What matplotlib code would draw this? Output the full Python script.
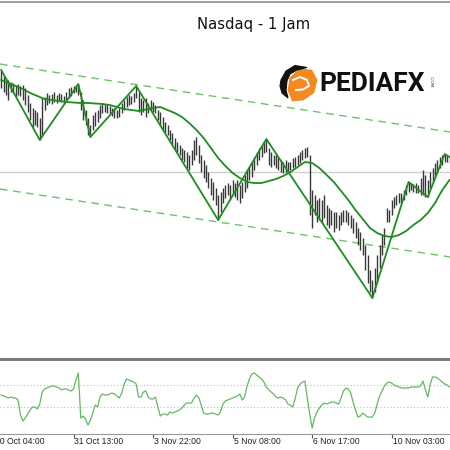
import matplotlib
matplotlib.use("Agg")
import matplotlib.pyplot as plt
from matplotlib.patches import Polygon
from matplotlib.lines import Line2D
import matplotlib.transforms as mtransforms

title = "Nasdaq - 1 Jam"

highs = [330, 325, 322, 320, 318, 317, 315, 316, 314, 315,
         312, 305, 297, 292, 290, 288, 282, 302, 303, 307,
         305, 306, 308, 305, 307, 306, 304, 308, 312, 313,
         314, 315, 316, 308, 300, 290, 282, 275, 285, 288,
         290, 295, 297, 296, 295, 294, 292, 292, 290, 292,
         297, 300, 303, 305, 304, 307, 314, 308, 302, 300,
         302, 297, 300, 298, 295, 290, 288, 283, 278, 275,
         270, 267, 262, 258, 255, 252, 250, 248, 245, 250,
         260, 263, 255, 245, 240, 235, 228, 222, 218, 212,
         205, 208, 212, 215, 217, 215, 220, 217, 220, 215,
         218, 225, 230, 233, 238, 243, 248, 252, 255, 258,
         261, 252, 248, 245, 245, 242, 240, 238, 240, 238,
         238, 242, 243, 245, 248, 250, 252, 253, 245, 210,
         205, 200, 202, 200, 205, 195, 192, 190, 188, 188,
         185, 188, 190, 190, 188, 185, 182, 178, 172, 168,
         162, 155, 145, 130, 120, 132, 145, 155, 165, 172,
         192, 190, 200, 203, 205, 207, 207, 210, 215, 218,
         217, 216, 217, 215, 222, 230, 225, 220, 228, 232,
         237, 240, 243, 245, 246, 245, 244]

lows = [312, 308, 305, 300, 308, 307, 303, 305, 304, 300,
        295, 288, 280, 273, 275, 273, 260, 265, 290, 295,
        297, 296, 298, 297, 299, 298, 296, 300, 302, 304,
        307, 308, 305, 290, 280, 275, 265, 263, 270, 274,
        278, 282, 287, 288, 287, 286, 284, 282, 282, 283,
        287, 290, 293, 295, 296, 298, 302, 288, 285, 288,
        283, 287, 290, 288, 287, 280, 275, 270, 267, 265,
        260, 255, 250, 247, 245, 240, 238, 232, 230, 235,
        240, 245, 237, 228, 222, 218, 212, 205, 200, 195,
        180, 188, 197, 202, 205, 200, 205, 203, 200, 197,
        202, 208, 212, 220, 223, 230, 235, 240, 243, 247,
        248, 235, 233, 235, 232, 230, 228, 227, 228, 228,
        230, 232, 233, 235, 237, 240, 242, 243, 185, 172,
        185, 178, 180, 177, 182, 175, 172, 175, 168, 172,
        170, 175, 178, 178, 175, 172, 167, 162, 155, 150,
        145, 130, 117, 108, 102, 108, 117, 132, 145, 155,
        178, 178, 185, 192, 195, 197, 197, 200, 205, 208,
        210, 208, 207, 207, 205, 205, 203, 203, 212, 218,
        224, 228, 232, 235, 238, 238, 237]

ma_bars = list(range(0, 187, 3))
ma_vals = [320, 317, 314, 311, 307, 304, 301, 300, 299, 298,
           297.5, 297, 297, 296.5, 296, 295, 293, 291, 290, 289,
           290.5, 292, 293, 290, 287, 283, 277, 270, 262, 252,
           242, 234, 227, 222, 218, 217, 217, 219, 221, 224,
           228, 233, 238, 237, 232, 225, 218, 209, 200, 190,
           181, 172, 167, 164, 163, 165, 169, 175, 180, 187,
           197, 210, 220]

zz_bars = [0, 16, 32, 37, 56, 90, 110, 154, 169, 177, 184, 186]
zz_vals = [330, 260, 316, 263, 314, 180, 261, 102, 218, 203, 246, 243]

chan_bars = [0, 186]
chan_upper = [335.8, 268.1]
chan_lower = [210.8, 143.1]
hline_price = 228

osc = [9, 0, -9, -18, -9, -18, -18, -36, -173, -227,
       -200, -164, -127, -100, -100, -118, -73, 36, 64, 73,
       82, 91, 91, 82, 73, 55, 64, 64, 55, 45,
       64, 145, 209, -200, -182, -209, -264, -218, -155, -82,
       -100, -9, 18, 9, 9, 18, 27, 18, 0, -18,
       27, 109, 155, 145, 136, 127, 109, -9, -9, 36,
       45, -9, -27, -27, -9, -100, -182, -164, -164, -173,
       -145, -155, -145, -136, -127, -109, -82, -64, -64, -64,
       -18, 9, -18, -82, -155, -164, -164, -155, -155, -164,
       -173, -145, -73, -45, -36, -27, -18, -9, 0, 18,
       -36, -9, 91, 155, 200, 209, 191, 173, 155, 127,
       82, 55, 36, 18, -9, -18, -9, -18, -36, -73,
       -82, -100, -18, 73, 109, 127, 136, -18, -164, -291,
       -200, -145, -109, -82, -64, -73, -64, -55, -55, -64,
       -73, -18, 45, 73, 64, 27, -55, -127, -191, -182,
       -155, -173, -191, -191, -191, -155, -73, 0, 45, 91,
       118, 127, 118, 100, 91, 82, 73, 73, 73, 73,
       82, 82, 82, 82, 91, 136, 55, -9, 109, 173,
       173, 164, 145, 127, 109, 100, 82]
osc_levels = [100, -100]

tick_bars = [-3, 30, 63, 96, 129, 162]
tick_labels = ["30 Oct 04:00", "31 Oct 13:00", "3 Nov 22:00",
               "5 Nov 08:00", "6 Nov 17:00", "10 Nov 03:00"]

W = H = 450
fig = plt.figure(figsize=(4.5, 4.5), dpi=100, facecolor="white")


def fx(px):
    return px / W


def fy(py):
    return 1 - py / H


XLIM = (-0.5, 186.2)
ax = fig.add_axes([0, fy(359), 1, fy(1.5) - fy(359)])
ax2 = fig.add_axes([0, fy(434), 1, fy(361) - fy(434)])

# ---- main price panel
ax.set_xlim(*XLIM)
ax.set_ylim(41, 398.5)
ax.axhline(hline_price, color="#cfcfcf", lw=1.0, zorder=1)
for yv in (chan_upper, chan_lower):
    ax.axline((chan_bars[0], yv[0]), (chan_bars[1], yv[1]), color="#6cc26c",
              lw=1.0, dashes=(5.5, 4), zorder=2)
bars = list(range(len(highs)))
ax.vlines(bars, lows, highs, color="#383838", lw=1.0, zorder=3)
ax.plot(ma_bars, ma_vals, color="#1f8c1f", lw=1.3, zorder=4)
ax.plot(zz_bars, zz_vals, color="#1f8c1f", lw=1.3, zorder=5)
ax.set_xticks([])
ax.set_yticks([])
for s in ("left", "right"):
    ax.spines[s].set_visible(False)
ax.spines["top"].set_color("#8c8c8c")
ax.spines["top"].set_linewidth(1.2)
ax.spines["bottom"].set_color("#7a7a7a")
ax.spines["bottom"].set_linewidth(2.2)

ax.text(0.563, 0.935, title, transform=ax.transAxes, ha="center", va="center",
        fontsize=10.6, family="DejaVu Sans", color="#111111")

# ---- oscillator panel
ax2.set_xlim(*XLIM)
ax2.set_ylim(-345, 318)
for lv in osc_levels:
    ax2.axhline(lv, color="#bdbdbd", lw=0.8, linestyle=(0, (1, 2)))
ax2.plot(bars, osc, color="#63b863", lw=0.9)
ax2.set_yticks([])
ax2.set_xticks([b for b in tick_bars if b >= XLIM[0]])
ax2.tick_params(axis="x", direction="out", length=3, width=0.8, color="#555555",
                labelbottom=False)
for s in ("left", "right", "top"):
    ax2.spines[s].set_visible(False)
ax2.spines["bottom"].set_color("#9a9a9a")
ax2.spines["bottom"].set_linewidth(0.8)
trans = mtransforms.blended_transform_factory(ax2.transData, ax2.transAxes)
for b, lab in zip(tick_bars, tick_labels):
    ax2.text(b + 0.4, -0.096, lab, transform=trans, ha="left", va="center",
             fontsize=6.2, family="Liberation Sans", color="#222222", clip_on=False)

# ---- logo
def P(pts):
    return [(fx(x), fy(y)) for x, y in pts]

fig.patches.append(Polygon(P([(291, 78), (300, 70), (311, 71), (316, 80), (313, 92),
                              (303, 99), (293, 100), (289, 90)]),
                           closed=True, facecolor="#f28a21", edgecolor="#f28a21",
                           lw=2, joinstyle="round", transform=fig.transFigure))
fig.patches.append(Polygon(P([(281, 80), (286, 71), (295, 65.5), (307, 67.5), (297, 70),
                              (290, 74), (287, 81), (286, 90), (288, 98), (282, 93),
                              (280, 86)]),
                           closed=True, facecolor="#111111", edgecolor="#111111",
                           lw=0.8, transform=fig.transFigure))
fig.lines.append(Line2D([fx(x) for x in (293, 300, 307, 309, 303, 296)],
                        [fy(y) for y in (80, 77, 80, 86, 89.5, 90)],
                        color="white", lw=1.4, transform=fig.transFigure))
fig.text(fx(372), fy(84), "PEDIAFX", ha="center", va="center", fontsize=19,
         family="Roboto", fontweight="bold", color="#111111")
fig.text(fx(431), fy(82), ".COM", ha="center", va="center", fontsize=3.2,
         rotation=-90, color="#333333")

fig.savefig("out.png", dpi=100, facecolor="white")
